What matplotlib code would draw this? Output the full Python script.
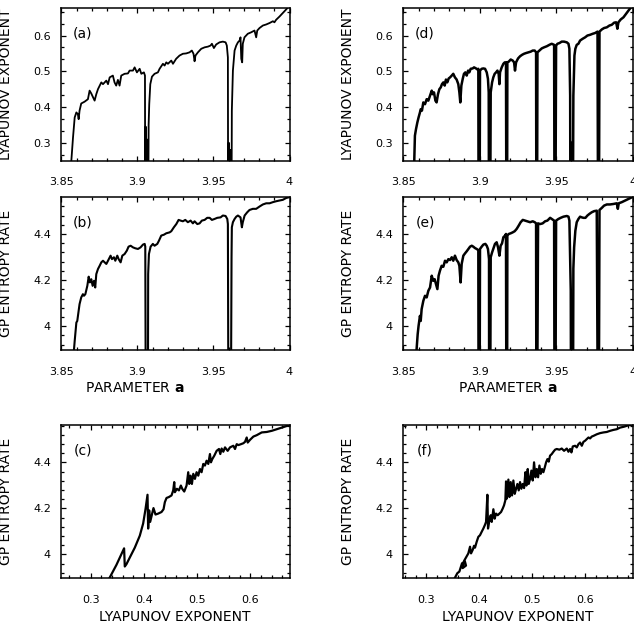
import matplotlib
matplotlib.use('Agg')
import matplotlib.pyplot as plt
from matplotlib.ticker import MultipleLocator, AutoMinorLocator, FuncFormatter

# (a) Lyapunov exponent vs parameter a (coarse scan)
a_lyap = [3.8564, 3.8566, 3.8577, 3.8588, 3.8599, 3.8609, 3.8614, 3.8620, 3.8631, 3.8653,
          3.8675, 3.8686, 3.8697, 3.8719, 3.8730, 3.8741, 3.8763, 3.8774, 3.8796, 3.8807,
          3.8818, 3.8839, 3.8850, 3.8861, 3.8872, 3.8883, 3.8894, 3.8916, 3.8938, 3.8949,
          3.8971, 3.8982, 3.8997, 3.9015, 3.9026, 3.9043, 3.9050, 3.9052, 3.9055, 3.9058,
          3.9061, 3.9066, 3.9071, 3.9074, 3.9078, 3.9085, 3.9096, 3.9113, 3.9135, 3.9146,
          3.9168, 3.9179, 3.9190, 3.9201, 3.9223, 3.9234, 3.9255, 3.9277, 3.9299, 3.9321,
          3.9343, 3.9358, 3.9369, 3.9376, 3.9382, 3.9398, 3.9420, 3.9442, 3.9464, 3.9481,
          3.9490, 3.9503, 3.9518, 3.9540, 3.9562, 3.9580, 3.9588, 3.9595, 3.9597, 3.9601,
          3.9604, 3.9610, 3.9613, 3.9618, 3.9621, 3.9628, 3.9639, 3.9650, 3.9661, 3.9672,
          3.9678, 3.9683, 3.9689, 3.9693, 3.9704, 3.9726, 3.9748, 3.9770, 3.9781, 3.9788,
          3.9803, 3.9825, 3.9847, 3.9869, 3.9891, 3.9901, 3.9912, 3.9934, 3.9956, 3.9989,
          4.0000]
lyap_a = [0.20, 0.250, 0.315, 0.371, 0.385, 0.380, 0.366, 0.390, 0.410, 0.415,
          0.422, 0.446, 0.438, 0.418, 0.436, 0.450, 0.469, 0.464, 0.474, 0.464,
          0.483, 0.488, 0.469, 0.460, 0.476, 0.460, 0.488, 0.493, 0.494, 0.502,
          0.502, 0.511, 0.497, 0.507, 0.493, 0.497, 0.488, 0.0, 0.345, 0.0,
          0.310, 0.0, 0.0, 0.350, 0.408, 0.464, 0.485, 0.493, 0.497, 0.507,
          0.521, 0.516, 0.525, 0.521, 0.530, 0.521, 0.535, 0.544, 0.549, 0.550,
          0.553, 0.558, 0.549, 0.528, 0.544, 0.553, 0.563, 0.567, 0.569, 0.572,
          0.577, 0.565, 0.575, 0.581, 0.583, 0.581, 0.572, 0.539, 0.0, 0.300,
          0.0, 0.0, 0.280, 0.0, 0.390, 0.502, 0.558, 0.572, 0.581, 0.586,
          0.595, 0.535, 0.525, 0.577, 0.595, 0.605, 0.609, 0.614, 0.595, 0.614,
          0.621, 0.628, 0.631, 0.635, 0.640, 0.637, 0.644, 0.653, 0.663, 0.678,
          0.685]

# (b) GP entropy rate vs parameter a (coarse scan)
a_ent = [3.8581, 3.8583, 3.8588, 3.8599, 3.8605, 3.8614, 3.8620, 3.8631, 3.8642, 3.8649,
         3.8658, 3.8671, 3.8680, 3.8688, 3.8697, 3.8706, 3.8715, 3.8723, 3.8730, 3.8741,
         3.8752, 3.8763, 3.8774, 3.8785, 3.8796, 3.8807, 3.8824, 3.8833, 3.8846, 3.8855,
         3.8868, 3.8877, 3.8890, 3.8901, 3.8916, 3.8931, 3.8942, 3.8956, 3.8971, 3.8986,
         3.9004, 3.9021, 3.9037, 3.9048, 3.9052, 3.9056, 3.9069, 3.9071, 3.9076, 3.9087,
         3.9102, 3.9113, 3.9131, 3.9142, 3.9157, 3.9175, 3.9190, 3.9212, 3.9223, 3.9240,
         3.9256, 3.9271, 3.9284, 3.9299, 3.9315, 3.9332, 3.9350, 3.9365, 3.9376, 3.9394,
         3.9409, 3.9424, 3.9442, 3.9459, 3.9475, 3.9490, 3.9507, 3.9525, 3.9547, 3.9562,
         3.9580, 3.9591, 3.9595, 3.9599, 3.9614, 3.9619, 3.9621, 3.9628, 3.9639, 3.9650,
         3.9661, 3.9678, 3.9687, 3.9693, 3.9705, 3.9722, 3.9737, 3.9759, 3.9781, 3.9803,
         3.9825, 3.9847, 3.9869, 3.9891, 3.9913, 3.9934, 3.9956, 3.9978, 3.9996]
ent_b = [3.80, 3.896, 3.936, 4.016, 4.023, 4.067, 4.096, 4.125, 4.139, 4.132,
         4.139, 4.175, 4.215, 4.190, 4.204, 4.175, 4.197, 4.168, 4.226, 4.248,
         4.262, 4.277, 4.284, 4.277, 4.270, 4.284, 4.306, 4.291, 4.299, 4.284,
         4.306, 4.291, 4.277, 4.306, 4.313, 4.328, 4.345, 4.349, 4.342, 4.338,
         4.335, 4.342, 4.354, 4.357, 4.345, 3.5, 3.5, 4.226, 4.313, 4.345,
         4.357, 4.349, 4.357, 4.371, 4.393, 4.397, 4.403, 4.407, 4.412, 4.429,
         4.443, 4.461, 4.458, 4.455, 4.461, 4.451, 4.458, 4.446, 4.455, 4.443,
         4.446, 4.458, 4.461, 4.470, 4.470, 4.461, 4.465, 4.470, 4.472, 4.480,
         4.478, 4.465, 4.443, 3.5, 3.5, 4.300, 4.429, 4.451, 4.465, 4.475,
         4.480, 4.472, 4.429, 4.451, 4.480, 4.494, 4.504, 4.509, 4.509, 4.519,
         4.528, 4.533, 4.533, 4.538, 4.542, 4.545, 4.548, 4.556, 4.559]

# (d) Lyapunov exponent, fine scan
a_lyap_fine = [3.8570, 3.8572, 3.8576, 3.8583, 3.8592, 3.8600, 3.8609, 3.8614, 3.8622, 3.8631,
               3.8642, 3.8653, 3.8664, 3.8675, 3.8686, 3.8692, 3.8701, 3.8710, 3.8718, 3.8727,
               3.8736, 3.8745, 3.8753, 3.8762, 3.8771, 3.8779, 3.8788, 3.8797, 3.8806, 3.8817,
               3.8827, 3.8838, 3.8849, 3.8860, 3.8867, 3.8873, 3.8880, 3.8889, 3.8897, 3.8906,
               3.8915, 3.8924, 3.8932, 3.8941, 3.8954, 3.8963, 3.8976, 3.8985, 3.8991, 3.8993,
               3.8999, 3.9002, 3.9013, 3.9024, 3.9035, 3.9046, 3.9054, 3.9059, 3.9061, 3.9068,
               3.9072, 3.9081, 3.9089, 3.9098, 3.9107, 3.9116, 3.9124, 3.9129, 3.9133, 3.9144,
               3.9155, 3.9164, 3.9172, 3.9175, 3.9179, 3.9181, 3.9190, 3.9203, 3.9216, 3.9225,
               3.9231, 3.9238, 3.9251, 3.9264, 3.9277, 3.9290, 3.9303, 3.9319, 3.9334, 3.9347,
               3.9360, 3.9369, 3.9371, 3.9375, 3.9378, 3.9391, 3.9406, 3.9421, 3.9439, 3.9456,
               3.9471, 3.9487, 3.9490, 3.9495, 3.9500, 3.9509, 3.9522, 3.9537, 3.9552, 3.9570,
               3.9581, 3.9587, 3.9592, 3.9594, 3.9600, 3.9604, 3.9609, 3.9613, 3.9620, 3.9626,
               3.9635, 3.9646, 3.9657, 3.9674, 3.9690, 3.9705, 3.9722, 3.9740, 3.9755, 3.9771,
               3.9775, 3.9780, 3.9784, 3.9799, 3.9814, 3.9832, 3.9849, 3.9864, 3.9880, 3.9893,
               3.9901, 3.9908, 3.9923, 3.9941, 3.9958, 3.9974, 3.9996]
lyap_d = [0.20, 0.254, 0.320, 0.338, 0.357, 0.371, 0.385, 0.394, 0.390, 0.413,
          0.408, 0.422, 0.418, 0.432, 0.446, 0.436, 0.441, 0.418, 0.413, 0.436,
          0.450, 0.455, 0.464, 0.469, 0.460, 0.477, 0.469, 0.480, 0.483, 0.488,
          0.493, 0.483, 0.477, 0.464, 0.441, 0.413, 0.460, 0.479, 0.493, 0.497,
          0.488, 0.502, 0.497, 0.507, 0.508, 0.511, 0.508, 0.505, 0.507, 0.0,
          0.0, 0.502, 0.507, 0.508, 0.507, 0.497, 0.479, 0.441, 0.0, 0.0,
          0.441, 0.469, 0.483, 0.493, 0.497, 0.502, 0.493, 0.464, 0.497, 0.511,
          0.521, 0.525, 0.525, 0.0, 0.0, 0.525, 0.527, 0.533, 0.530, 0.525,
          0.502, 0.525, 0.536, 0.542, 0.546, 0.549, 0.551, 0.553, 0.555, 0.558,
          0.558, 0.553, 0.0, 0.0, 0.553, 0.558, 0.564, 0.567, 0.570, 0.574,
          0.577, 0.574, 0.0, 0.0, 0.572, 0.577, 0.579, 0.583, 0.583, 0.581,
          0.577, 0.563, 0.432, 0.0, 0.300, 0.0, 0.0, 0.432, 0.544, 0.563,
          0.574, 0.577, 0.586, 0.591, 0.595, 0.600, 0.602, 0.605, 0.607, 0.611,
          0.0, 0.0, 0.611, 0.617, 0.621, 0.623, 0.628, 0.630, 0.636, 0.637,
          0.619, 0.637, 0.645, 0.651, 0.661, 0.670, 0.682]

# (e) GP entropy rate, fine scan
a_ent_fine = [3.8585, 3.8587, 3.8594, 3.8600, 3.8609, 3.8614, 3.8620, 3.8631, 3.8642, 3.8653,
              3.8664, 3.8675, 3.8686, 3.8696, 3.8705, 3.8714, 3.8723, 3.8731, 3.8740, 3.8751,
              3.8762, 3.8773, 3.8784, 3.8795, 3.8806, 3.8817, 3.8827, 3.8838, 3.8849, 3.8860,
              3.8867, 3.8875, 3.8882, 3.8893, 3.8904, 3.8915, 3.8926, 3.8937, 3.8948, 3.8958,
              3.8969, 3.8980, 3.8991, 3.8993, 3.8999, 3.9002, 3.9013, 3.9024, 3.9037, 3.9046,
              3.9054, 3.9061, 3.9062, 3.9068, 3.9072, 3.9081, 3.9089, 3.9100, 3.9111, 3.9120,
              3.9129, 3.9137, 3.9146, 3.9155, 3.9166, 3.9172, 3.9175, 3.9179, 3.9181, 3.9190,
              3.9203, 3.9216, 3.9229, 3.9242, 3.9255, 3.9268, 3.9282, 3.9297, 3.9312, 3.9330,
              3.9347, 3.9360, 3.9369, 3.9371, 3.9375, 3.9382, 3.9395, 3.9412, 3.9428, 3.9443,
              3.9461, 3.9474, 3.9487, 3.9490, 3.9495, 3.9500, 3.9515, 3.9530, 3.9548, 3.9570,
              3.9581, 3.9587, 3.9592, 3.9596, 3.9598, 3.9610, 3.9613, 3.9618, 3.9626, 3.9635,
              3.9646, 3.9657, 3.9668, 3.9679, 3.9692, 3.9705, 3.9718, 3.9733, 3.9749, 3.9766,
              3.9774, 3.9779, 3.9784, 3.9799, 3.9814, 3.9832, 3.9853, 3.9875, 3.9897, 3.9904,
              3.9910, 3.9930, 3.9952, 3.9974, 3.9996]
ent_e = [3.80, 3.900, 3.965, 4.002, 4.045, 4.023, 4.074, 4.110, 4.132, 4.125,
         4.154, 4.168, 4.219, 4.197, 4.204, 4.183, 4.161, 4.219, 4.241, 4.262,
         4.258, 4.284, 4.277, 4.291, 4.287, 4.299, 4.284, 4.306, 4.287, 4.277,
         4.262, 4.190, 4.270, 4.306, 4.316, 4.325, 4.335, 4.345, 4.349, 4.345,
         4.339, 4.335, 4.330, 3.5, 3.5, 4.335, 4.345, 4.354, 4.357, 4.349,
         4.335, 4.291, 3.5, 3.5, 4.299, 4.320, 4.335, 4.357, 4.364, 4.342,
         4.306, 4.349, 4.359, 4.386, 4.393, 4.400, 3.5, 3.5, 4.393, 4.400,
         4.403, 4.407, 4.412, 4.422, 4.436, 4.451, 4.461, 4.458, 4.455, 4.451,
         4.455, 4.451, 4.446, 3.5, 3.5, 4.446, 4.443, 4.446, 4.455, 4.458,
         4.470, 4.464, 4.458, 3.5, 3.5, 4.458, 4.465, 4.470, 4.475, 4.478,
         4.475, 4.458, 4.284, 4.154, 3.5, 3.5, 4.250, 4.342, 4.414, 4.451,
         4.465, 4.475, 4.472, 4.470, 4.470, 4.480, 4.487, 4.494, 4.499, 4.501,
         3.5, 3.5, 4.504, 4.513, 4.523, 4.528, 4.528, 4.530, 4.533, 4.509,
         4.533, 4.538, 4.545, 4.552, 4.559]

# (c) entropy rate against Lyapunov exponent, coarse scan (path order)
lyap_c = [0.3357, 0.3483, 0.3627, 0.3640, 0.3671, 0.3734, 0.3828, 0.3922, 0.3985, 0.4029,
          0.4067, 0.4079, 0.4098, 0.4117, 0.4154, 0.4179, 0.4217, 0.4267, 0.4330, 0.4368,
          0.4393, 0.4424, 0.4468, 0.4518, 0.4550, 0.4569, 0.4581, 0.4619, 0.4657, 0.4694,
          0.4719, 0.4757, 0.4801, 0.4832, 0.4851, 0.4876, 0.4901, 0.4927, 0.4958, 0.4989,
          0.5021, 0.5052, 0.5083, 0.5115, 0.5146, 0.5177, 0.5209, 0.5240, 0.5259, 0.5284,
          0.5322, 0.5366, 0.5410, 0.5435, 0.5460, 0.5491, 0.5523, 0.5573, 0.5617, 0.5680,
          0.5711, 0.5743, 0.5774, 0.5824, 0.5868, 0.5899, 0.5931, 0.5950, 0.5994, 0.6056,
          0.6119, 0.6213, 0.6307, 0.6402, 0.6496, 0.6590, 0.6684, 0.6734]
ent_c = [3.899, 3.954, 4.026, 3.947, 3.957, 3.986, 4.029, 4.081, 4.134, 4.196,
         4.259, 4.112, 4.191, 4.141, 4.177, 4.201, 4.173, 4.177, 4.184, 4.196,
         4.227, 4.245, 4.249, 4.256, 4.278, 4.314, 4.270, 4.285, 4.278, 4.299,
         4.285, 4.273, 4.299, 4.357, 4.306, 4.342, 4.306, 4.350, 4.328, 4.357,
         4.342, 4.371, 4.357, 4.393, 4.386, 4.407, 4.393, 4.436, 4.400, 4.414,
         4.429, 4.450, 4.458, 4.436, 4.460, 4.446, 4.465, 4.450, 4.465, 4.472,
         4.458, 4.479, 4.475, 4.479, 4.483, 4.489, 4.508, 4.486, 4.498, 4.512,
         4.518, 4.530, 4.532, 4.537, 4.544, 4.551, 4.558, 4.561]

# (f) entropy rate against Lyapunov exponent, fine scan (path order)
lyap_f = [0.3542, 0.3586, 0.3624, 0.3674, 0.3730, 0.3749, 0.3686, 0.3712, 0.3793, 0.3825,
          0.3844, 0.3875, 0.3900, 0.3919, 0.3951, 0.3982, 0.4013, 0.4045, 0.4076, 0.4108,
          0.4127, 0.4152, 0.4164, 0.4190, 0.4215, 0.4234, 0.4265, 0.4290, 0.4315, 0.4347,
          0.4378, 0.4410, 0.4441, 0.4466, 0.4491, 0.4504, 0.4517, 0.4548, 0.4567, 0.4592,
          0.4617, 0.4642, 0.4668, 0.4693, 0.4718, 0.4743, 0.4768, 0.4793, 0.4818, 0.4844,
          0.4869, 0.4888, 0.4913, 0.4932, 0.4957, 0.4982, 0.5007, 0.5032, 0.5058, 0.5083,
          0.5108, 0.5133, 0.5158, 0.5183, 0.5208, 0.5234, 0.5259, 0.5284, 0.5309, 0.5334,
          0.5366, 0.5397, 0.5429, 0.5460, 0.5510, 0.5554, 0.5598, 0.5649, 0.5680, 0.5712,
          0.5737, 0.5762, 0.5806, 0.5837, 0.5869, 0.5900, 0.5932, 0.5963, 0.5995, 0.6026,
          0.6058, 0.6089, 0.6120, 0.6152, 0.6215, 0.6277, 0.6341, 0.6403, 0.6466, 0.6529,
          0.6592, 0.6655, 0.6730, 0.6812, 0.6888]
ent_f = [3.899, 3.918, 3.925, 3.961, 3.968, 3.951, 3.940, 3.971, 4.004, 4.033,
         4.004, 4.019, 4.037, 4.029, 4.055, 4.076, 4.083, 4.098, 4.112, 4.129,
         4.141, 4.259, 4.112, 4.148, 4.170, 4.141, 4.196, 4.155, 4.177, 4.170,
         4.177, 4.184, 4.199, 4.213, 4.235, 4.317, 4.242, 4.325, 4.249, 4.314,
         4.256, 4.321, 4.263, 4.285, 4.306, 4.278, 4.314, 4.285, 4.306, 4.288,
         4.357, 4.299, 4.371, 4.306, 4.328, 4.364, 4.321, 4.400, 4.335, 4.371,
         4.335, 4.386, 4.350, 4.371, 4.357, 4.378, 4.400, 4.414, 4.403, 4.429,
         4.436, 4.446, 4.455, 4.458, 4.455, 4.460, 4.450, 4.460, 4.446, 4.458,
         4.443, 4.469, 4.472, 4.465, 4.479, 4.486, 4.472, 4.489, 4.494, 4.501,
         4.508, 4.504, 4.512, 4.515, 4.522, 4.527, 4.530, 4.532, 4.537, 4.541,
         4.544, 4.551, 4.555, 4.561, 4.564]

plt.rcParams['font.family'] = 'DejaVu Sans'
plt.rcParams['mathtext.fontset'] = 'custom'
plt.rcParams['mathtext.bf'] = 'DejaVu Sans:bold'

fig = plt.figure(figsize=(6.34, 6.24), dpi=100)
W, H = 634, 624


def make_axes(x0, y0, x1, y1):
    return fig.add_axes([x0 / W, 1 - y1 / H, (x1 - x0) / W, (y1 - y0) / H])


fmt = FuncFormatter(lambda v, p: '%g' % round(v, 3))


def style(ax, xlim, ylim, xmajor, ymajor, xminor, yminor, label):
    ax.set_xlim(*xlim)
    ax.set_ylim(*ylim)
    ax.xaxis.set_major_locator(MultipleLocator(xmajor))
    ax.yaxis.set_major_locator(MultipleLocator(ymajor))
    ax.xaxis.set_minor_locator(AutoMinorLocator(xminor))
    ax.yaxis.set_minor_locator(AutoMinorLocator(yminor))
    ax.xaxis.set_major_formatter(fmt)
    ax.yaxis.set_major_formatter(fmt)
    ax.tick_params(which='both', direction='in', top=True, right=True, width=0.9)
    ax.tick_params(which='major', length=3.5, labelsize=8)
    ax.tick_params(which='minor', length=2)
    ax.tick_params(axis='x', pad=12)
    ax.tick_params(axis='y', pad=7.5)
    for s in ax.spines.values():
        s.set_linewidth(1.1)
    ax.text(0.095, 0.835, label, transform=ax.transAxes, fontsize=10,
            ha='center', va='center')


cols = [(61.3, 289.5), (403.3, 632.5)]
rows = [(8, 160.7), (197.3, 350), (425.3, 578)]

ax_a = make_axes(cols[0][0], rows[0][0], cols[0][1], rows[0][1])
ax_d = make_axes(cols[1][0], rows[0][0], cols[1][1], rows[0][1])
ax_b = make_axes(cols[0][0], rows[1][0], cols[0][1], rows[1][1])
ax_e = make_axes(cols[1][0], rows[1][0], cols[1][1], rows[1][1])
ax_c = make_axes(cols[0][0], rows[2][0], cols[0][1], rows[2][1])
ax_f = make_axes(cols[1][0], rows[2][0], cols[1][1], rows[2][1])

ax_a.plot(a_lyap, lyap_a, color='black', lw=1.3)
ax_d.plot(a_lyap_fine, lyap_d, color='black', lw=1.8)
ax_b.plot(a_ent, ent_b, color='black', lw=1.5)
ax_e.plot(a_ent_fine, ent_e, color='black', lw=1.8)
ax_c.plot(lyap_c, ent_c, color='black', lw=1.6)
ax_f.plot(lyap_f, ent_f, color='black', lw=1.6)

for ax, lab in [(ax_a, '(a)'), (ax_d, '(d)')]:
    style(ax, (3.85, 4.0), (0.25, 0.677), 0.05, 0.1, 5, 3, lab)
for ax, lab in [(ax_b, '(b)'), (ax_e, '(e)')]:
    style(ax, (3.85, 4.0), (3.897, 4.559), 0.05, 0.2, 5, 5, lab)
style(ax_c, (0.2447, 0.6735), (3.897, 4.561), 0.1, 0.2, 5, 5, '(c)')
style(ax_f, (0.2567, 0.6888), (3.897, 4.561), 0.1, 0.2, 5, 5, '(f)')

# axis titles placed where the reference puts them
lab_kw = dict(fontsize=10, ha='center', va='center')
for xc in (6.5, 347.5):
    fig.text(xc / W, 1 - 84.4 / H, 'LYAPUNOV EXPONENT', rotation=90, **lab_kw)
    fig.text(xc / W, 1 - 273.6 / H, 'GP ENTROPY RATE', rotation=90, **lab_kw)
    fig.text(xc / W, 1 - 501.7 / H, 'GP ENTROPY RATE', rotation=90, **lab_kw)
fig.text(135 / W, 1 - 388 / H, r'PARAMETER $\mathbf{a}$', **lab_kw)
fig.text(508 / W, 1 - 388 / H, r'PARAMETER $\mathbf{a}$', **lab_kw)
fig.text(175 / W, 1 - 617 / H, 'LYAPUNOV EXPONENT', **lab_kw)
fig.text(518 / W, 1 - 617 / H, 'LYAPUNOV EXPONENT', **lab_kw)

fig.savefig('out.png', dpi=100)
